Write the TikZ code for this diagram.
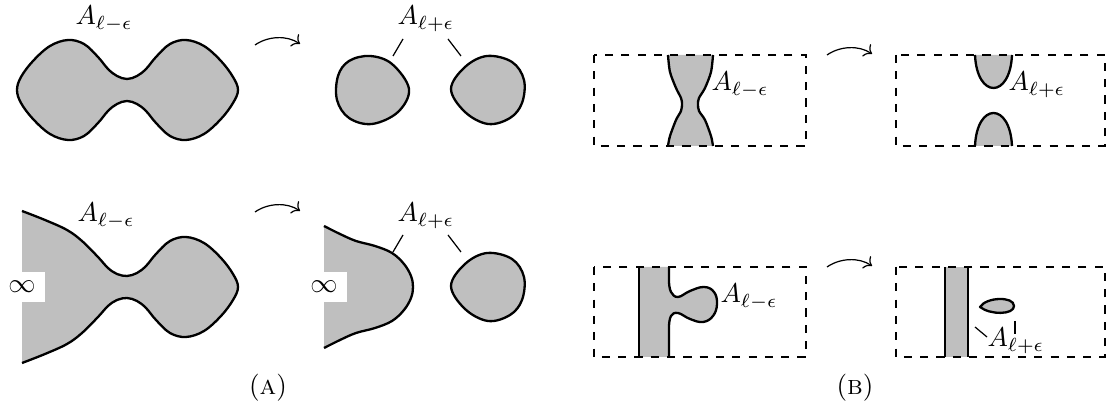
\documentclass[tikz,border=0pt]{standalone}
\usetikzlibrary{arrows.meta}
\definecolor{shapegray}{RGB}{191,191,191}
\tikzset{
  region/.style={draw=black, fill=shapegray, line width=0.85pt, line join=round},
  edgeline/.style={draw=black, line width=0.85pt},
  leader/.style={draw=black, line width=0.45pt},
  flow/.style={draw=black, line width=0.45pt, ->},
  frame/.style={draw=black, line width=0.85pt, dashed},
  lab/.style={anchor=base west, inner sep=0pt},
  inf/.style={fill=white, inner sep=3.4pt},
  capt/.style={anchor=base, inner sep=0pt},
}
\begin{document}
\begin{tikzpicture}[x=0.368pt, y=-0.368pt]
\useasboundingbox (0,0) rectangle (1107,407);

% ---------------- Panel A, top row ----------------
\draw[region] plot[smooth cycle, tension=0.6] coordinates {
 (17,90) (21,77) (33,61) (50,46) (68,40) (84,44) (98,57) (108,69) (117,76) (127,79)
 (137,76) (146,69) (156,57) (170,44) (186,40) (204,46) (221,61) (233,77) (238,90)
 (233,103) (221,119) (204,134) (186,140) (170,136) (156,123) (146,111) (137,104) (127,101)
 (117,104) (108,111) (98,123) (84,136) (68,140) (50,134) (33,119) (21,103)};
\node[lab] (la1) at (75,25) {$A_{\ell-\epsilon}$};

\coordinate (ar1s) at (255,45);
\coordinate (ar1e) at (300,44);
\draw[flow] (ar1s) .. controls +(13,-9) and +(-13,-9) .. (ar1e);

\draw[region] plot[smooth cycle, tension=0.6] coordinates {
 (370,56) (392,64) (409,89) (398,112) (372,124) (349,118) (337,100) (338,76) (349,61)};
\draw[region] plot[smooth cycle, tension=0.6] coordinates {
 (487,56) (512,62) (524,80) (522,103) (510,118) (488,124) (465,112) (451,89) (465,67)};
\node[lab] (la2) at (397,25) {$A_{\ell+\epsilon}$};
\coordinate (l1a) at (403,39); \coordinate (l1b) at (393,56);
\coordinate (l2a) at (448,39); \coordinate (l2b) at (461,56);
\draw[leader] (l1a) -- (l1b);
\draw[leader] (l2a) -- (l2b);

% ---------------- Panel A, bottom row ----------------
\draw[region] plot[smooth, tension=0.6] coordinates {
 (22,211) (45,220) (67,230) (82,241) (98,257) (108,268) (117,274) (127,276)
 (137,273) (146,266) (156,254) (170,241) (186,237) (204,243) (221,258) (233,274) (238,287)
 (233,300) (221,316) (204,331) (186,337) (170,333) (156,320) (146,308) (137,301) (127,298)
 (117,300) (108,306) (98,317) (82,333) (67,344) (45,354) (22,363)};
\node[inf] (inf1) at (22,287) {$\infty$};
\node[lab] (la3) at (77,222) {$A_{\ell-\epsilon}$};

\coordinate (ar2s) at (255,212);
\coordinate (ar2e) at (300,211);
\draw[flow] (ar2s) .. controls +(13,-9) and +(-13,-9) .. (ar2e);

\draw[region] plot[smooth, tension=0.6] coordinates {
 (324,226) (340,234) (356,241) (375,246) (392,253) (404,264) (411,276) (413,287)
 (411,298) (404,310) (392,321) (375,328) (356,333) (340,340) (324,348)};
\node[inf] (inf2) at (324,287) {$\infty$};
\draw[region, shift={(0,197)}] plot[smooth cycle, tension=0.6] coordinates {
 (487,56) (512,62) (524,80) (522,103) (510,118) (488,124) (465,112) (451,89) (465,67)};
\node[lab] (la4) at (397,222) {$A_{\ell+\epsilon}$};
\coordinate (l3a) at (403,235); \coordinate (l3b) at (393,252);
\coordinate (l4a) at (448,235); \coordinate (l4b) at (461,252);
\draw[leader] (l3a) -- (l3b);
\draw[leader] (l4a) -- (l4b);

\node[capt] (capA) at (268,395) {(\textsc{a})};

% ---------------- Panel B, top row ----------------
\fill[shapegray] plot[smooth] coordinates {
 (668,55) (670,72) (676,88) (681,98) (682,104) (681,111) (676,120) (670,136) (668,146)}
 -- plot[smooth] coordinates {
 (713,146) (711,136) (705,120) (699,111) (698,104) (699,98) (705,88) (711,72) (713,55)} -- cycle;
\draw[edgeline] plot[smooth] coordinates {
 (668,55) (670,72) (676,88) (681,98) (682,104) (681,111) (676,120) (670,136) (668,146)};
\draw[edgeline] plot[smooth] coordinates {
 (713,55) (711,72) (705,88) (699,98) (698,104) (699,111) (705,120) (711,136) (713,146)};
\draw[frame] (594,55) rectangle (806,146);
\node[lab] (lb1) at (711,91) {$A_{\ell-\epsilon}$};

\coordinate (ar3s) at (827,55);
\coordinate (ar3e) at (872,54);
\draw[flow] (ar3s) .. controls +(13,-9) and +(-13,-9) .. (ar3e);

\draw[region] (975,55) .. controls (977,99) and (1010,99) .. (1012,55);
\draw[region] (975,146) .. controls (977,102) and (1010,102) .. (1012,146);
\draw[frame] (896,55) rectangle (1105,146);
\node[lab] (lb2) at (1008,91) {$A_{\ell+\epsilon}$};

% ---------------- Panel B, bottom row ----------------
\fill[shapegray] (639,267) -- (669,267) -- plot[smooth, tension=0.7] coordinates {
 (669,282) (671,292) (678,297) (690,291) (704,287) (714,292) (717,304) (713,316)
 (703,322) (690,319) (678,313) (671,316) (669,326)} -- (669,357) -- (639,357) -- cycle;
\draw[edgeline] (639,267) -- (639,357);
\draw[edgeline] (669,267) -- plot[smooth, tension=0.7] coordinates {
 (669,282) (671,292) (678,297) (690,291) (704,287) (714,292) (717,304) (713,316)
 (703,322) (690,319) (678,313) (671,316) (669,326)} -- (669,357);
\draw[frame] (594,267) rectangle (806,357);
\node[lab] (lb3) at (720,303) {$A_{\ell-\epsilon}$};

\coordinate (ar4s) at (827,267);
\coordinate (ar4e) at (872,266);
\draw[flow] (ar4s) .. controls +(13,-9) and +(-13,-9) .. (ar4e);

\fill[shapegray] (945,267) rectangle (968,357);
\draw[edgeline] (945,267) -- (945,357);
\draw[edgeline] (968,267) -- (968,357);
\draw[region] (980,307) .. controls (986,297) and (1014,296) .. (1014,306)
  .. controls (1014,315) and (990,315) .. (980,307) -- cycle;
\draw[frame] (896,267) rectangle (1105,357);
\node[lab] (lb4) at (987,347) {$A_{\ell+\epsilon}$};
\coordinate (l5a) at (975,327); \coordinate (l5b) at (987,337);
\coordinate (l6a) at (1015,321); \coordinate (l6b) at (1015,334);
\draw[leader] (l5a) -- (l5b);
\draw[leader] (l6a) -- (l6b);

\node[capt] (capB) at (855,395) {(\textsc{b})};
\end{tikzpicture}
\end{document}
